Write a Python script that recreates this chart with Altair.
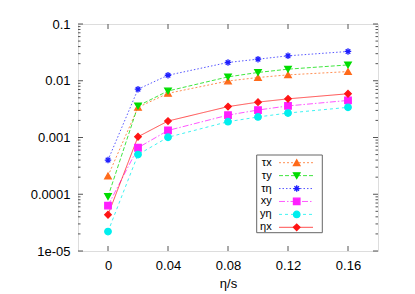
import altair as alt
import pandas as pd

# ---- data ----
eta_s = [0, 0.02, 0.04, 0.08, 0.10, 0.12, 0.16]
series_names = ["τx", "τy", "τη", "xy", "yη", "ηx"]
tau_x = [2.1e-4, 0.0034, 0.0060, 0.0099, 0.0114, 0.0127, 0.0145]
tau_y = [9.1e-5, 0.0036, 0.0066, 0.0117, 0.0140, 0.0160, 0.0190]
tau_eta = [4.0e-4, 0.0071, 0.0125, 0.0210, 0.0240, 0.0275, 0.0328]
x_y = [6.3e-5, 6.6e-4, 0.00133, 0.00248, 0.00305, 0.0036, 0.0045]
y_eta = [2.2e-5, 5.0e-4, 0.00101, 0.0019, 0.0023, 0.0027, 0.0034]
eta_x = [4.35e-5, 0.00103, 0.00195, 0.0035, 0.0042, 0.0048, 0.0059]

x_ticks = [0, 0.04, 0.08, 0.12, 0.16]
y_major = [1e-5, 1e-4, 1e-3, 1e-2, 1e-1]
y_minor = [m * d for d in [1e-5, 1e-4, 1e-3, 1e-2] for m in range(2, 10)]

colors = ["#ff6a1a", "#00dd00", "#1f1fff", "#ff1fff", "#00eeee", "#ff1414"]
dashes = [[2, 2], [4, 2], [1.5, 2], [6, 2, 1.5, 2], [3, 3], [1, 0]]
asterisk = "M-1,0H1M0,-1V1M-0.7,-0.7L0.7,0.7M-0.7,0.7L0.7,-0.7"
shapes = ["triangle-up", "triangle-down", asterisk, "square", "circle", "diamond"]

values = [tau_x, tau_y, tau_eta, x_y, y_eta, eta_x]
rows = []
for name, vals in zip(series_names, values):
    for xv, yv in zip(eta_s, vals):
        rows.append({"series": name, "x": xv, "y": yv})
df = pd.DataFrame(rows)

W, H = 300, 227
xscale = alt.Scale(domain=[-0.02, 0.18], nice=False, zero=False)
yscale = alt.Scale(type="log", domain=[1e-5, 0.1], nice=False)
cscale = alt.Scale(domain=series_names, range=colors)
dscale = alt.Scale(domain=series_names, range=dashes)
sscale = alt.Scale(domain=series_names, range=shapes)

font = "Liberation Sans"

x_axis = alt.Axis(values=x_ticks, labelExpr="format(datum.value, '.2~f')",
                  ticks=False, domain=False, grid=False, labelPadding=8,
                  labelFontSize=13, labelColor="black", labelFont=font,
                  title="η/s", titleFontSize=13, titleFontWeight="normal",
                  titleFont=font, titleColor="black", titlePadding=5)
y_axis = alt.Axis(values=y_major,
                  labelExpr="datum.value < 0.00005 ? '1e-05' : format(datum.value, '.4~f')",
                  ticks=False, domain=False, grid=False, labelPadding=8,
                  labelFontSize=13, labelColor="black", labelFont=font,
                  title=None)

lines = alt.Chart(df).mark_line(strokeWidth=1.0, opacity=0.75).encode(
    x=alt.X("x:Q", scale=xscale, axis=x_axis),
    y=alt.Y("y:Q", scale=yscale, axis=y_axis),
    color=alt.Color("series:N", scale=cscale, legend=None),
    strokeDash=alt.StrokeDash("series:N", scale=dscale, legend=None),
    detail="series:N",
)

points = alt.Chart(df).mark_point(filled=False, size=42, strokeWidth=1.3, opacity=1).encode(
    x=alt.X("x:Q", scale=xscale, axis=None),
    y=alt.Y("y:Q", scale=yscale, axis=None),
    stroke=alt.Stroke("series:N", scale=cscale, legend=None),
    fill=alt.Fill("series:N", scale=cscale, legend=None),
    shape=alt.Shape("series:N", scale=sscale, legend=None),
)

tick_color = "#555555"
ymaj_df = pd.DataFrame({"v": y_major})
ymin_df = pd.DataFrame({"v": y_minor})
xt_df = pd.DataFrame({"v": x_ticks})

def yticks(d, x1, x2):
    return alt.Chart(d).mark_rule(color=tick_color, strokeWidth=1).encode(
        y=alt.Y("v:Q", scale=yscale, axis=None), x=alt.value(x1), x2=alt.value(x2))

def xticks(d, y1, y2):
    return alt.Chart(d).mark_rule(color=tick_color, strokeWidth=1).encode(
        x=alt.X("v:Q", scale=xscale, axis=None), y=alt.value(y1), y2=alt.value(y2))

tick_layers = [
    yticks(ymaj_df, 0, 5), yticks(ymin_df, 0, 2.5),
    yticks(ymaj_df, W, W - 5), yticks(ymin_df, W, W - 2.5),
    xticks(xt_df, H, H - 5), xticks(xt_df, 0, 5),
]

# ---- legend box ----
leg_df = pd.DataFrame({"series": series_names, "row": list(range(len(series_names)))})
box_df = pd.DataFrame({"k": [0]})
ly = alt.Y("row:O", scale=alt.Scale(type="point", range=[138.7, 203.3], padding=0), axis=None)

box = alt.Chart(box_df).mark_rect(fill="white", stroke="#666666", strokeWidth=1).encode(
    x=alt.value(178.7), x2=alt.value(244.3), y=alt.value(131), y2=alt.value(208.7))
leg_lines = alt.Chart(leg_df).mark_rule(strokeWidth=1.0, opacity=0.75).encode(
    y=ly, x=alt.value(201), x2=alt.value(235),
    color=alt.Color("series:N", scale=cscale, legend=None),
    strokeDash=alt.StrokeDash("series:N", scale=dscale, legend=None))
leg_pts = alt.Chart(leg_df).mark_point(filled=False, size=42, strokeWidth=1.3, opacity=1).encode(
    y=ly, x=alt.value(218.7),
    stroke=alt.Stroke("series:N", scale=cscale, legend=None),
    fill=alt.Fill("series:N", scale=cscale, legend=None),
    shape=alt.Shape("series:N", scale=sscale, legend=None))
leg_text = alt.Chart(leg_df).mark_text(align="right", baseline="middle", fontSize=11,
                                       font=font, color="black").encode(
    y=ly, x=alt.value(193.7), text="series:N")

chart = alt.layer(lines, points, *tick_layers, box, leg_lines, leg_pts, leg_text).resolve_scale(
    y="independent", x="independent").properties(
    width=W, height=H,
    autosize=alt.AutoSizeParams(type="none"),
    padding={"left": 70, "top": 16, "right": 29, "bottom": 43},
).configure_view(stroke="#666666", strokeWidth=1.2).configure(font=font)

chart.save("out.html", embed_options={"renderer": "svg", "actions": False})
